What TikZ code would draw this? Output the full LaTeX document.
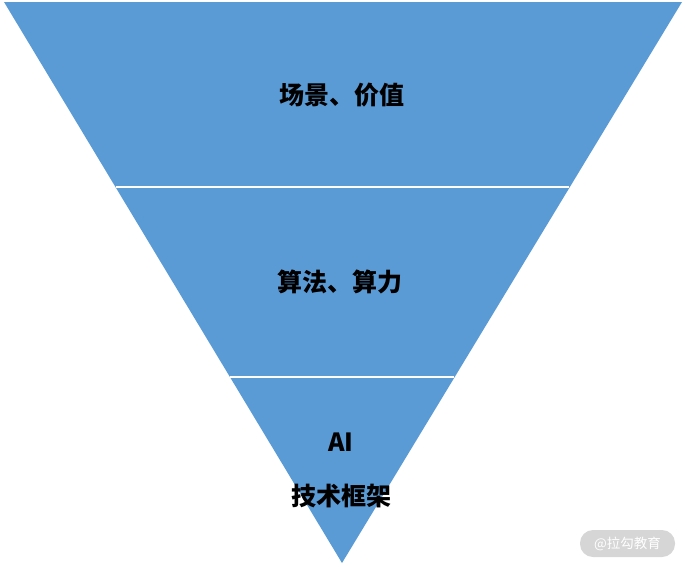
\documentclass[tikz,border=0pt]{standalone}
\usepackage{fontspec}
\newfontfamily\cjk{Noto Sans CJK SC}
\definecolor{tri}{HTML}{5B9BD5}
\definecolor{wm}{HTML}{D6D6D6}
\begin{document}
\begin{tikzpicture}[x=1pt,y=-1pt,
  lbl/.style={font=\cjk\bfseries\fontsize{25}{28}\selectfont, text=black, inner sep=0pt},
  divider/.style={draw=white, line width=1.5pt},
  wmbox/.style={fill=wm, rounded corners=13pt, minimum width=95pt, minimum height=27pt, inner sep=0pt, text=white, font=\cjk\fontsize{13.5}{15}\selectfont}]
\useasboundingbox (0,0) rectangle (685,566);
\coordinate (tl) at (4,2);
\coordinate (tr) at (682,2);
\coordinate (ap) at (342,563);
\fill[tri] (tl) -- (tr) -- (ap) -- cycle;
\coordinate (d1l) at (115.5,187);
\coordinate (d1r) at (568.5,187);
\coordinate (d2l) at (230,377);
\coordinate (d2r) at (454,377);
\draw[divider] (d1l) -- (d1r);
\draw[divider] (d2l) -- (d2r);
\node[lbl] (t1) at (342,95) {场景、价值};
\node[lbl] (t2) at (340,282) {算法、算力};
\node[lbl] (t3) at (341,442) {AI};
\node[lbl] (t4) at (341,496) {技术框架};
\node[wmbox] (wm) at (627.5,543.5) {@拉勾教育};
\end{tikzpicture}
\end{document}
